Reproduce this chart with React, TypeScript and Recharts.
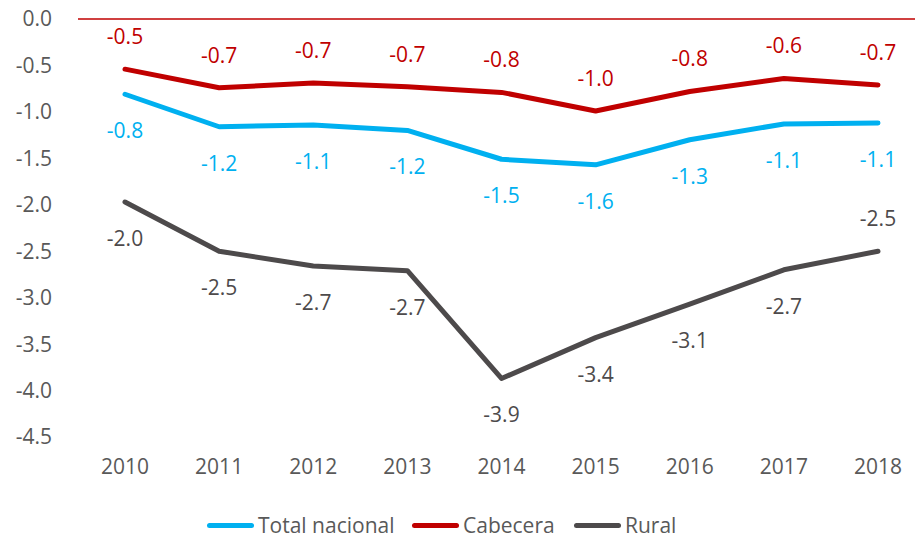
import React from 'react';
import { LineChart, Line, XAxis, YAxis, ReferenceLine, LabelList, Legend } from 'recharts';

const years = ['2010', '2011', '2012', '2013', '2014', '2015', '2016', '2017', '2018'];
const totalNacional = [-0.81, -1.16, -1.14, -1.2, -1.51, -1.57, -1.3, -1.13, -1.12];
const cabecera = [-0.54, -0.74, -0.69, -0.73, -0.79, -0.99, -0.78, -0.64, -0.71];
const rural = [-1.97, -2.5, -2.66, -2.71, -3.87, -3.43, -3.07, -2.7, -2.5];
const yTicks = [0, -0.5, -1, -1.5, -2, -2.5, -3, -3.5, -4, -4.5];

const seriesNames = ['Total nacional', 'Cabecera', 'Rural'];
const colors = ['#00B0F0', '#C00000', '#4D4A4B'];

const data = years.map((y, i) => ({
  year: y,
  total: totalNacional[i],
  cabecera: cabecera[i],
  rural: rural[i],
}));

const FONT = '"Open Sans", sans-serif';
const FS = 21;
const TEXT = '#595959';

const makeLabel = (color: string, placement: (i: number) => 'above' | 'below') => (props: any) => {
  const { x, y, value, index } = props;
  const off = placement(index) === 'above' ? -33 : 36;
  return (
    <text
      x={x}
      y={y + off}
      textAnchor="middle"
      dominantBaseline="central"
      fill={color}
      fontSize={FS}
      fontFamily={FONT}
    >
      {Number(value).toFixed(1)}
    </text>
  );
};

const legendX = [207, 412, 574];

const LegendContent = () => (
  <div style={{ position: 'relative', height: 42, width: 925 }}>
    {seriesNames.map((n, i) => (
      <div
        key={n}
        style={{
          position: 'absolute',
          left: legendX[i],
          top: 14,
          display: 'flex',
          alignItems: 'center',
          fontFamily: FONT,
          fontSize: FS,
          color: TEXT,
          whiteSpace: 'nowrap',
        }}
      >
        <span
          style={{
            display: 'inline-block',
            width: 47,
            height: 5,
            borderRadius: 3,
            background: colors[i],
            marginRight: 4,
          }}
        />
        <span>{n}</span>
      </div>
    ))}
  </div>
);

export default function App() {
  return (
    <div style={{ position: 'absolute', left: 0, top: 0, width: 915, height: 539, overflow: 'hidden', background: '#fff' }}>
      <LineChart width={925} height={539} data={data} margin={{ top: 19, right: 0, bottom: 0, left: 0 }}>
        <XAxis
          dataKey="year"
          axisLine={false}
          tickLine={false}
          tickSize={0}
          tickMargin={22}
          height={60}
          padding={{ left: 47, right: 47 }}
          tick={{ fill: TEXT, fontSize: FS, fontFamily: FONT }}
          interval={0}
        />
        <YAxis
          domain={[-4.5, 0]}
          ticks={yTicks}
          width={78}
          axisLine={false}
          tickLine={false}
          tickSize={0}
          tickMargin={26}
          interval={0}
          tickFormatter={(v: number) => v.toFixed(1)}
          tick={{ fill: TEXT, fontSize: FS, fontFamily: FONT }}
        />
        <ReferenceLine y={0} stroke="#C00000" strokeWidth={1.5} />
        <Legend verticalAlign="bottom" height={42} content={() => <LegendContent />} wrapperStyle={{ left: 0, width: 925 }} />
        <Line
          dataKey="total"
          name={seriesNames[0]}
          stroke={colors[0]}
          strokeWidth={5}
          strokeLinecap="round"
          strokeLinejoin="round"
          dot={false}
          activeDot={false}
          isAnimationActive={false}
        >
          <LabelList dataKey="total" content={makeLabel(colors[0], () => 'below')} />
        </Line>
        <Line
          dataKey="cabecera"
          name={seriesNames[1]}
          stroke={colors[1]}
          strokeWidth={5}
          strokeLinecap="round"
          strokeLinejoin="round"
          dot={false}
          activeDot={false}
          isAnimationActive={false}
        >
          <LabelList dataKey="cabecera" content={makeLabel(colors[1], () => 'above')} />
        </Line>
        <Line
          dataKey="rural"
          name={seriesNames[2]}
          stroke={colors[2]}
          strokeWidth={5}
          strokeLinecap="round"
          strokeLinejoin="round"
          dot={false}
          activeDot={false}
          isAnimationActive={false}
        >
          <LabelList
            dataKey="rural"
            content={makeLabel(colors[2], (i) => (i === years.length - 1 ? 'above' : 'below'))}
          />
        </Line>
      </LineChart>
    </div>
  );
}
